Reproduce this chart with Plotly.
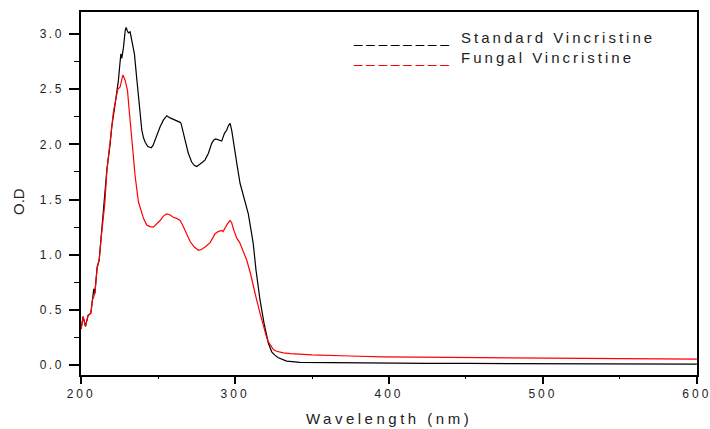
import plotly.graph_objects as go

# Standard Vincristine (black)
std_wl = [200.0, 201.3, 202.8, 204.5, 206.3, 207.3, 208.2, 208.9, 210.4, 211.7, 213.2, 215.4, 216.7,
          218.8, 219.9, 222.1, 223.2, 224.2, 225.1, 225.8, 226.4, 227.5, 228.6, 229.2, 230.0, 230.7,
          231.8, 232.9, 234.6, 236.1, 237.9, 239.4, 240.5, 241.6, 243.3, 245.5, 246.7, 248.0, 249.7,
          251.3, 253.4, 255.6, 257.8, 259.4, 261.0, 263.2, 264.3, 264.9, 266.2, 267.5, 269.6, 271.8,
          273.5, 275.1, 277.3, 279.0, 280.5, 282.7, 284.8, 286.2, 287.5, 289.4, 291.3, 293.1, 294.6,
          295.7, 296.8, 297.9, 298.9, 301.1, 303.2, 305.0, 306.5, 308.6, 310.4, 311.8, 313.6, 316.2,
          318.8, 320.2, 321.6, 323.8, 325.8, 328.1, 333.5, 342.2, 360.0, 380.0, 400.0, 425.0, 450.0,
          475.0, 500.0, 525.0, 550.0, 575.0, 600.0]
std_od = [0.33, 0.44, 0.35, 0.45, 0.47, 0.59, 0.69, 0.65, 0.89, 0.95, 1.19, 1.49, 1.77,
          2.00, 2.16, 2.37, 2.48, 2.58, 2.72, 2.82, 2.78, 2.88, 3.03, 3.06, 3.03, 3.01,
          3.02, 2.94, 2.82, 2.60, 2.31, 2.13, 2.06, 2.02, 1.98, 1.97, 1.99, 2.04, 2.10,
          2.16, 2.22, 2.26, 2.24, 2.23, 2.22, 2.21, 2.20, 2.19, 2.12, 2.05, 1.92, 1.84,
          1.81, 1.80, 1.82, 1.84, 1.86, 1.92, 2.01, 2.04, 2.05, 2.04, 2.03, 2.10, 2.13,
          2.17, 2.19, 2.12, 2.04, 1.83, 1.65, 1.56, 1.49, 1.37, 1.22, 1.10, 0.86, 0.59,
          0.38, 0.28, 0.20, 0.12, 0.09, 0.066, 0.036, 0.024, 0.021, 0.019, 0.018, 0.016, 0.015,
          0.013, 0.012, 0.011, 0.010, 0.009, 0.008]

# Fungal Vincristine (red)
fun_wl = [200.0, 201.3, 202.8, 204.5, 206.3, 207.3, 208.2, 208.9, 210.4, 211.7, 213.2, 215.4, 216.7,
          218.8, 219.9, 221.0, 223.8, 225.3, 227.1, 228.6, 230.1, 231.4, 232.9, 234.0, 235.0, 236.1,
          237.2, 238.3, 240.5, 242.6, 244.7, 246.9, 249.0, 251.3, 253.4, 255.6, 257.8, 259.9, 262.0,
          264.3, 265.9, 267.5, 269.2, 270.8, 273.5, 276.2, 278.3, 280.5, 283.8, 285.5, 287.0, 289.0,
          291.3, 292.2, 293.8, 295.0, 296.8, 297.8, 299.0, 301.1, 303.0, 305.0, 307.6, 310.0, 311.9,
          314.0, 316.2, 317.7, 319.0, 320.3, 321.6, 323.2, 324.9, 327.0, 331.4, 336.0, 342.2, 350.0,
          375.0, 396.0, 440.0, 483.0, 530.0, 569.0, 590.0, 600.0]
fun_od = [0.33, 0.44, 0.35, 0.45, 0.47, 0.59, 0.62, 0.65, 0.88, 0.95, 1.18, 1.47, 1.76,
          1.99, 2.16, 2.30, 2.50, 2.52, 2.63, 2.58, 2.49, 2.28, 2.01, 1.88, 1.72, 1.57,
          1.48, 1.43, 1.33, 1.27, 1.255, 1.25, 1.28, 1.31, 1.35, 1.37, 1.36, 1.34, 1.33,
          1.31, 1.27, 1.22, 1.17, 1.12, 1.07, 1.04, 1.05, 1.07, 1.11, 1.15, 1.19, 1.21,
          1.22, 1.21, 1.25, 1.28, 1.31, 1.29, 1.23, 1.15, 1.11, 1.04, 0.95, 0.83, 0.71,
          0.59, 0.47, 0.39, 0.32, 0.26, 0.21, 0.17, 0.14, 0.125, 0.11, 0.104, 0.097, 0.092,
          0.082, 0.075, 0.070, 0.066, 0.063, 0.060, 0.056, 0.053]

x_ticks = [200, 300, 400, 500, 600]
y_ticks = [0.0, 0.5, 1.0, 1.5, 2.0, 2.5, 3.0]

series_names = ["Standard Vincristine", "Fungal Vincristine"]
series_colors = ["#000000", "#ff0000"]

FONT = "Liberation Sans, Arial, sans-serif"


def spaced(t, ls):
    return '<span style="letter-spacing:%spx">%s</span>' % (ls, t)


fig = go.Figure()
fig.add_trace(go.Scatter(x=std_wl, y=std_od, mode="lines", name=series_names[0],
                         line=dict(color=series_colors[0], width=1.2)))
fig.add_trace(go.Scatter(x=fun_wl, y=fun_od, mode="lines", name=series_names[1],
                         line=dict(color=series_colors[1], width=1.2)))

fig.update_layout(
    width=710, height=429,
    margin=dict(l=81, r=13, t=12, b=54, autoexpand=False),
    paper_bgcolor="white", plot_bgcolor="white",
    showlegend=False,
    font=dict(family=FONT, size=12, color="#222"),
)

fig.update_xaxes(
    range=[199.9, 600.1], showgrid=False, zeroline=False, automargin=False,
    showline=True, linecolor="black", linewidth=1.5, mirror=True,
    ticks="outside", ticklen=7, tickwidth=1.5, tickcolor="black",
    tickvals=x_ticks, ticktext=[spaced(str(v), 3) for v in x_ticks],
    tickfont=dict(family=FONT, size=12, color="#222"),
    ticklabeloverflow="allow",
    minor=dict(tickvals=[250, 350, 450, 550], ticks="outside", ticklen=2,
               tickcolor="black", tickwidth=1),
)
fig.update_yaxes(
    range=[-0.09, 3.2], showgrid=False, zeroline=False, automargin=False,
    showline=True, linecolor="black", linewidth=1.5, mirror=True,
    ticks="outside", ticklen=10, tickwidth=1.5, tickcolor="black",
    tickvals=y_ticks, ticktext=[spaced("%.1f" % v, 2.5) for v in y_ticks],
    tickfont=dict(family=FONT, size=12, color="#222"),
    ticklabelstandoff=3,
    minor=dict(dtick=0.25, tick0=0, ticks="outside", ticklen=5, tickcolor="black", tickwidth=1),
)

# axis titles
fig.add_annotation(x=0.5, y=-(418 - 375) / 363, xref="paper", yref="paper",
                   text=spaced("Wavelength (nm)", 3.5), showarrow=False,
                   font=dict(family=FONT, size=15, color="#222"), xanchor="center", yanchor="middle")
fig.add_annotation(x=-(81 - 18) / 616, y=(375 - 201) / 363, xref="paper", yref="paper",
                   text="O.D", showarrow=False, textangle=-90,
                   font=dict(family=FONT, size=15, color="#222"), xanchor="center", yanchor="middle")

# legend built from text
legend_y = [(375 - 37) / 363, (375 - 58) / 363]
for name, col, yy in zip(series_names, series_colors, legend_y):
    fig.add_annotation(
        x=(351 - 81) / 616, y=yy, xref="paper", yref="paper", xanchor="left", yanchor="middle",
        showarrow=False, align="left",
        text='<span style="color:%s;letter-spacing:4px">________</span>  %s' % (col, spaced(name, 3)),
        font=dict(family=FONT, size=15, color="#222"),
    )

fig.write_html("out.html")
